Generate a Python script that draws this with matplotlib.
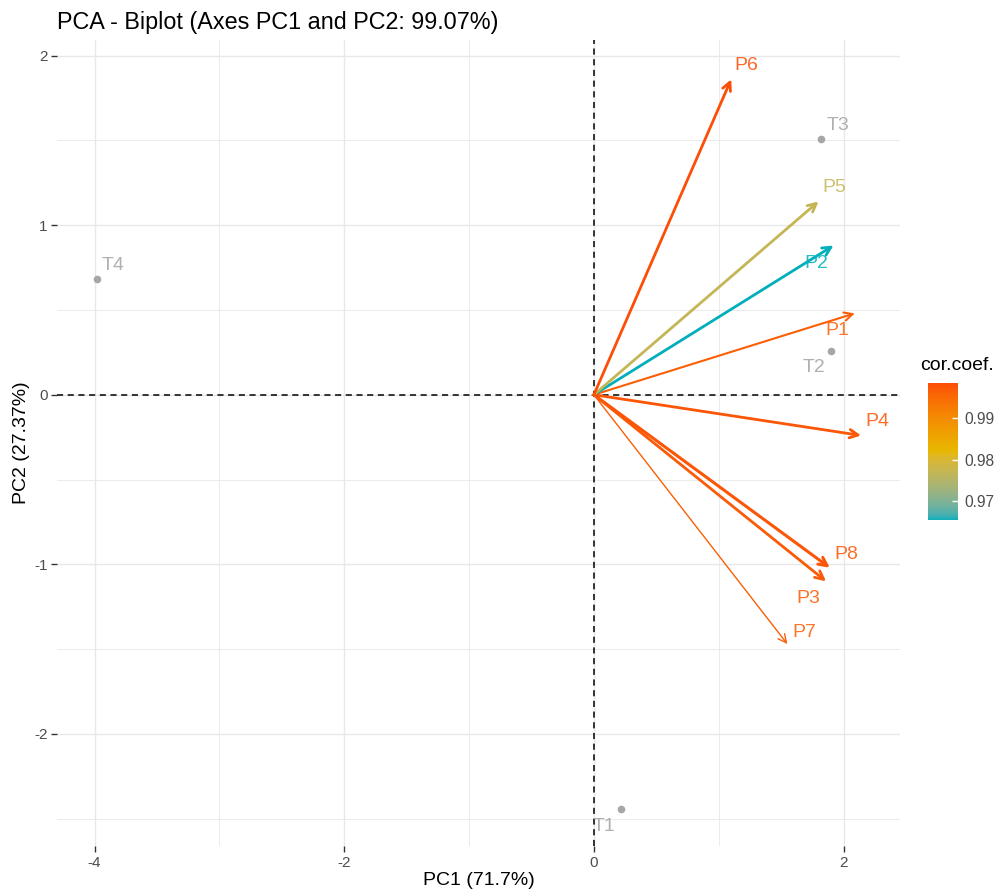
import numpy as np
import matplotlib
matplotlib.use('Agg')
import matplotlib.pyplot as plt
from matplotlib.colors import ListedColormap, Normalize, to_rgb

plt.rcParams['font.family'] = ['Liberation Sans', 'DejaVu Sans']
plt.rcParams['axes.unicode_minus'] = False

# Variables (arrows) and their correlation coefficient
var_names = ['P1', 'P2', 'P3', 'P4', 'P5', 'P6', 'P7', 'P8']
var_pc1 = [2.09, 1.92, 1.86, 2.14, 1.80, 1.10, 1.55, 1.89]
var_pc2 = [0.48, 0.88, -1.10, -0.24, 1.14, 1.86, -1.47, -1.02]
var_cor = [0.9965, 0.9655, 0.997, 0.9975, 0.977, 0.9985, 0.9965, 0.9975]

# Individuals (points)
ind_names = ['T1', 'T2', 'T3', 'T4']
ind_pc1 = [0.22, 1.90, 1.82, -3.98]
ind_pc2 = [-2.44, 0.26, 1.51, 0.68]

# label offsets in pixels (dx, dy)
var_off = [(-17, -17), (-17, -18), (-18, -17), (16, 14), (16, 14), (15, 14), (17, 12), (17, 13)]
var_lw = [1.5, 2.0, 2.0, 2.0, 2.0, 2.0, 1.0, 2.2]
ind_off = [(-17, -18), (-17, -17), (17, 13), (16, 14)]

grad_cols = ['#00AFBB', '#E7B800', '#FC4E07']


# ggplot interpolates gradientn in Lab space; do the same here
def srgb_to_lab(c):
    c = np.array(c, dtype=float)
    lin = np.where(c <= 0.04045, c / 12.92, ((c + 0.055) / 1.055) ** 2.4)
    M = np.array([[0.4124, 0.3576, 0.1805], [0.2126, 0.7152, 0.0722], [0.0193, 0.1192, 0.9505]])
    xyz = M @ lin / np.array([0.95047, 1.0, 1.08883])
    f = np.where(xyz > 0.008856, np.cbrt(xyz), 7.787 * xyz + 16 / 116)
    return np.array([116 * f[1] - 16, 500 * (f[0] - f[1]), 200 * (f[1] - f[2])])


def lab_to_srgb(lab):
    fy = (lab[0] + 16) / 116
    fx = fy + lab[1] / 500
    fz = fy - lab[2] / 200
    f = np.array([fx, fy, fz])
    xyz = np.where(f ** 3 > 0.008856, f ** 3, (f - 16 / 116) / 7.787) * np.array([0.95047, 1.0, 1.08883])
    Minv = np.array([[3.2406, -1.5372, -0.4986], [-0.9689, 1.8758, 0.0415], [0.0557, -0.2040, 1.0570]])
    lin = Minv @ xyz
    c = np.where(lin <= 0.0031308, 12.92 * lin, 1.055 * np.clip(lin, 0, None) ** (1 / 2.4) - 0.055)
    return np.clip(c, 0, 1)


labs = [srgb_to_lab(to_rgb(c)) for c in grad_cols]
cols = []
for t in np.linspace(0, 1, 256):
    seg = min(int(t * 2), 1)
    u = t * 2 - seg
    cols.append(lab_to_srgb(labs[seg] * (1 - u) + labs[seg + 1] * u))
cmap = ListedColormap(cols)
norm = Normalize(vmin=min(var_cor), vmax=max(var_cor))

fig = plt.figure(figsize=(10.03, 8.96), dpi=100)
ax = fig.add_axes([0.057, 0.056, 0.84, 0.899])

ax.set_xlim(-4.3, 2.45)
ax.set_ylim(-2.66, 2.09)

# grid like theme_minimal
for v in [-4, -2, 0, 2]:
    ax.axvline(v, color='#E8E8E8', lw=1.0, zorder=0)
for v in [-3, -1, 1]:
    ax.axvline(v, color='#E8E8E8', lw=0.6, zorder=0)
for v in [-2, -1, 0, 1, 2]:
    ax.axhline(v, color='#E8E8E8', lw=1.0, zorder=0)
for v in [-2.5, -1.5, -0.5, 0.5, 1.5]:
    ax.axhline(v, color='#E8E8E8', lw=0.6, zorder=0)

ax.axhline(0, color='black', lw=1.1, ls=(0, (4, 3)), zorder=1)
ax.axvline(0, color='black', lw=1.1, ls=(0, (4, 3)), zorder=1)

for s in ax.spines.values():
    s.set_visible(False)

ax.set_xticks([-4, -2, 0, 2])
ax.set_yticks([-2, -1, 0, 1, 2])
ax.tick_params(colors='#333333', labelcolor='#4D4D4D', labelsize=11, length=4, width=1, pad=3)

# individuals
ax.scatter(ind_pc1, ind_pc2, s=20, color='#A6A6A6', zorder=3)
for n, x, y, o in zip(ind_names, ind_pc1, ind_pc2, ind_off):
    ax.annotate(n, (x, y), xytext=o, textcoords='offset pixels', ha='center', va='center',
                color='#B0B0B0', fontsize=14, zorder=3)

# variable arrows
for n, x, y, c, lw, o in zip(var_names, var_pc1, var_pc2, var_cor, var_lw, var_off):
    col = cmap(norm(c))
    ax.annotate('', xy=(x, y), xytext=(0, 0),
                arrowprops=dict(arrowstyle='->,head_length=0.6,head_width=0.3', color=col,
                                lw=lw, shrinkA=0, shrinkB=0), zorder=4)
    ax.annotate(n, (x, y), xytext=o, textcoords='offset pixels', ha='center', va='center',
                color=col, alpha=0.85, fontsize=14, zorder=5)

ax.set_title('PCA - Biplot (Axes PC1 and PC2: 99.07%)', loc='left', x=0.0, fontsize=16.8,
             color='black', pad=8)
ax.set_xlabel('PC1 (71.7%)', fontsize=14, labelpad=2)
ax.set_ylabel('PC2 (27.37%)', fontsize=14, labelpad=3)

# colorbar
cax = fig.add_axes([0.925, 0.4196, 0.030, 0.153])
sm = plt.cm.ScalarMappable(cmap=cmap, norm=norm)
cb = fig.colorbar(sm, cax=cax, ticks=[0.97, 0.98, 0.99])
cb.outline.set_visible(False)
cb.ax.tick_params(length=4, color='white', width=1, direction='in', labelsize=11.2,
                  labelcolor='#4D4D4D', pad=5)
cb.ax.set_yticklabels(['0.97', '0.98', '0.99'])
fig.text(0.917, 0.583, 'cor.coef.', fontsize=14, ha='left', va='bottom')

fig.savefig('out.png', dpi=100)
